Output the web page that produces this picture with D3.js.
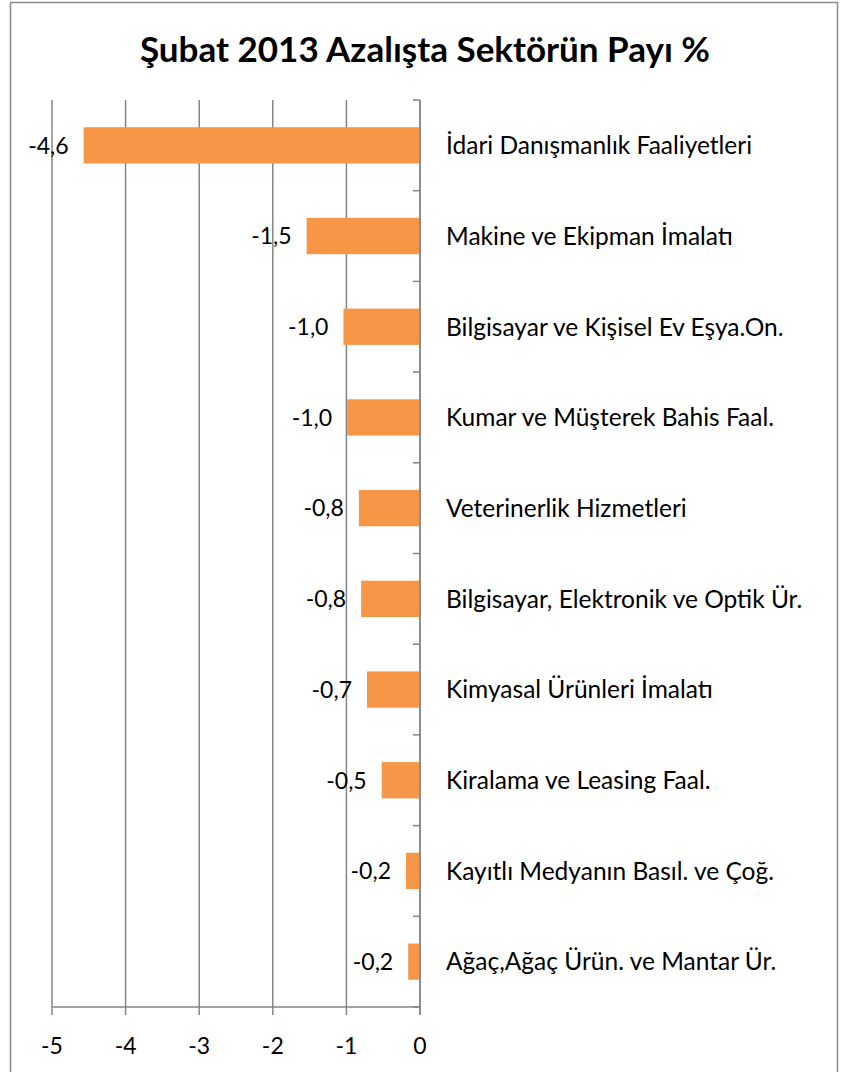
<!DOCTYPE html>
<html>
  <head>
    <meta charset="utf-8">
    <style>
      body { margin: 0; background: #fff; }
      text { font-family: Lato, "Open Sans", sans-serif; fill: #000; }
    </style>
    <script src="https://d3js.org/d3.v7.min.js"></script>
    <title>Şubat 2013 Azalışta Sektörün Payı %</title>
  </head>
  <body>
    <div id="chart"></div>
    <script>
    // --- dati
    var TITLE = "Şubat 2013 Azalışta Sektörün Payı %"
    var sectors = [
      "İdari Danışmanlık Faaliyetleri",
      "Makine ve Ekipman İmalatı",
      "Bilgisayar ve Kişisel Ev Eşya.On.",
      "Kumar ve Müşterek Bahis Faal.",
      "Veterinerlik Hizmetleri",
      "Bilgisayar, Elektronik ve Optik Ür.",
      "Kimyasal Ürünleri İmalatı",
      "Kiralama ve Leasing Faal.",
      "Kayıtlı Medyanın Basıl. ve Çoğ.",
      "Ağaç,Ağaç Ürün. ve Mantar Ür."
    ]
    var shares = [-4.57, -1.54, -1.04, -0.99, -0.83, -0.80, -0.72, -0.52, -0.19, -0.16]
    var xTicks = [-5, -4, -3, -2, -1, 0]

    var W = 848, H = 1072
    var margin = {top: 100, left: 52, zeroX: 420, bottom: 1007}

    var svg = d3.select("#chart").append("svg")
      .attr("width", W).attr("height", H)

    // cornice del grafico
    svg.append("rect")
      .attr("x", 10.5).attr("y", 2.5)
      .attr("width", 827).attr("height", H + 10)
      .attr("fill", "none").attr("stroke", "#8c8c8c").attr("stroke-width", 1.5)

    svg.append("text")
      .attr("x", 425).attr("y", 62)
      .attr("text-anchor", "middle")
      .style("font-size", "35px").style("font-weight", "bold")
      .text(TITLE)

    var x = d3.scaleLinear().domain([-5, 0]).range([margin.left, margin.zeroX])
    var y = d3.scaleBand().domain(sectors).range([margin.top, margin.bottom])
      .paddingInner(0.6).paddingOuter(0.3)

    // griglia verticale
    svg.selectAll("line.grid").data(xTicks).enter().append("line")
      .attr("class", "grid")
      .attr("x1", d => x(d)).attr("x2", d => x(d))
      .attr("y1", margin.top).attr("y2", margin.bottom + 8)
      .attr("stroke", "#868686").attr("stroke-width", 1.5)

    // asse x
    svg.append("line")
      .attr("x1", x(-5)).attr("x2", x(0))
      .attr("y1", margin.bottom).attr("y2", margin.bottom)
      .attr("stroke", "#868686").attr("stroke-width", 1.5)

    svg.selectAll("text.tick").data(xTicks).enter().append("text")
      .attr("class", "tick")
      .attr("x", d => x(d)).attr("y", 1054)
      .attr("text-anchor", "middle")
      .style("font-size", "23px")
      .text(d => String(d))

    // barre
    svg.selectAll("rect.bar").data(shares).enter().append("rect")
      .attr("class", "bar")
      .attr("x", d => x(d))
      .attr("y", (d, i) => y(sectors[i]))
      .attr("width", d => x(0) - x(d))
      .attr("height", y.bandwidth())
      .attr("fill", "#F79646")

    // asse delle categorie (sullo zero) con tacche ai confini delle bande
    var bounds = sectors.map(s => y(s) - y.step() * y.paddingInner() / 2)
    bounds.push(margin.bottom)
    svg.append("line")
      .attr("x1", x(0)).attr("x2", x(0))
      .attr("y1", margin.top).attr("y2", margin.bottom + 8)
      .attr("stroke", "#868686").attr("stroke-width", 1.5)
    svg.selectAll("line.ctick").data(bounds).enter().append("line")
      .attr("class", "ctick")
      .attr("x1", x(0) - 7).attr("x2", x(0))
      .attr("y1", d => d).attr("y2", d => d)
      .attr("stroke", "#868686").attr("stroke-width", 1.5)

    // etichette valori (virgola decimale, trattino normale)
    svg.selectAll("text.val").data(shares).enter().append("text")
      .attr("class", "val")
      .attr("x", d => x(d) - 15)
      .attr("y", (d, i) => y(sectors[i]) + y.bandwidth() / 2)
      .attr("dy", "0.36em")
      .attr("text-anchor", "end")
      .style("font-size", "23px")
      .text(d => d.toFixed(1).replace(".", ","))

    // etichette categorie
    svg.selectAll("text.cat").data(sectors).enter().append("text")
      .attr("class", "cat")
      .attr("x", x(0) + 26)
      .attr("y", d => y(d) + y.bandwidth() / 2)
      .attr("dy", "0.36em")
      .style("font-size", "24.5px")
      .text(d => d)
    </script>
  </body>
</html>
